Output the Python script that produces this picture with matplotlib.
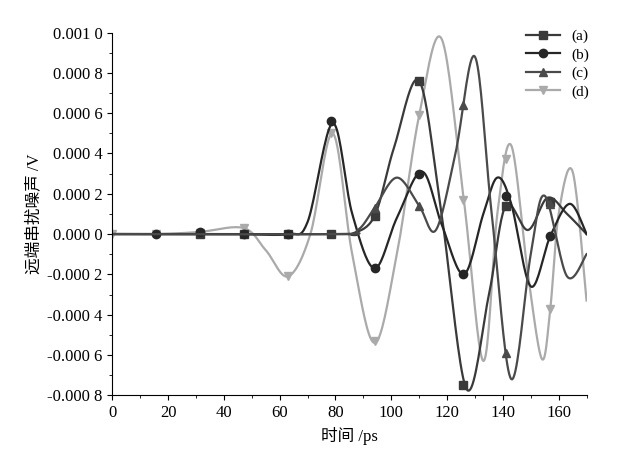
import matplotlib.pyplot as plt
import numpy as np
from matplotlib.ticker import MultipleLocator, FuncFormatter

plt.rcParams['font.family'] = ['Liberation Serif', 'Noto Sans CJK SC', 'Noto Sans CJK JP']

# key points of each curve (x in ps, y in 1e-4 V)
a_x = [0, 80, 86, 94, 101, 110, 118, 127, 135, 141, 149, 156, 163, 170]
a_y = [0, 0, 0.02, 0.9, 4.3, 7.6, 1, -7.7, -3, 1.4, 0.2, 1.8, 1, 0]
b_x = [0, 16, 31, 47, 63, 70, 79, 86, 94, 102, 111, 118, 126, 133, 138, 143, 150, 157, 164, 170]
b_y = [0, 0, 0, 0, 0, 0.6, 5.5, 1, -1.7, 0.8, 3.1, 0.5, -2, 1, 2.8, 1.5, -2.6, -0.1, 1.5, 0]
c_x = [0, 80, 88, 94, 102, 110, 116, 123, 130, 136, 143, 150, 155, 163, 170]
c_y = [0, 0, 0.2, 1.3, 2.8, 1.4, 0.2, 4, 8.8, 1, -7.2, -1, 1.9, -2.1, -1]
d_x = [0, 16, 31, 47, 55, 63, 71, 79, 86, 94, 102, 110, 118, 126, 133, 138, 143, 149, 154, 157, 160, 165, 170]
d_y = [0, 0, 0.1, 0.3, -0.8, -2.1, 0, 5, -1, -5.4, -1, 5.9, 9.7, 1.7, -6.3, 1, 4.4, -2, -6.2, -3.7, 1, 3.1, -3.3]

# marker points
m_x = [0, 15.7, 31.4, 47.1, 62.8, 78.5, 94.2, 109.9, 125.6, 141.3, 157]
a_m = [None, None, 0, 0, 0, 0, 0.9, 7.6, -7.5, 1.4, 1.6]
b_m = [None, 0, 0.1, 0, 0, 5.6, -1.7, 3.0, -2.0, 1.9, -0.1]
c_m = [None, None, None, None, None, None, 1.3, 1.4, 6.4, -5.9, 1.5]
d_m = [0, 0, 0.05, 0.3, -2.1, 5.0, -5.3, 5.9, 1.7, 3.7, -3.7]

labels = ['(a)', '(b)', '(c)', '(d)']
colors = ['#3a3a3a', '#262626', '#4a4a4a', '#aaaaaa']
markers = ['s', 'o', '^', 'v']


def smooth(xs, ys, n=20):
    # Catmull-Rom through the key points
    xs = np.asarray(xs, float)
    ys = np.asarray(ys, float)
    px = np.r_[xs[0], xs, xs[-1]]
    py = np.r_[ys[0], ys, ys[-1]]
    outx, outy = [], []
    for i in range(1, len(px) - 2):
        t = np.linspace(0, 1, n, endpoint=False)
        for p, out in ((px, outx), (py, outy)):
            p0, p1, p2, p3 = p[i - 1], p[i], p[i + 1], p[i + 2]
            out.extend(0.5 * (2 * p1 + (-p0 + p2) * t + (2 * p0 - 5 * p1 + 4 * p2 - p3) * t ** 2
                              + (-p0 + 3 * p1 - 3 * p2 + p3) * t ** 3))
    outx.append(xs[-1])
    outy.append(ys[-1])
    return np.array(outx), np.array(outy) * 1e-4


fig, ax = plt.subplots(figsize=(6.24, 4.65), dpi=100)
fig.subplots_adjust(left=0.18, right=0.94, bottom=0.15, top=0.93)

series = [(a_x, a_y, a_m), (b_x, b_y, b_m), (c_x, c_y, c_m), (d_x, d_y, d_m)]
order = [3, 0, 1, 2]
for i in order:
    kx, ky, mk = series[i]
    sx, sy = smooth(kx, ky)
    ax.plot(sx, sy, color=colors[i], lw=1.6)
    mx = [x for x, v in zip(m_x, mk) if v is not None]
    my = [v * 1e-4 for v in mk if v is not None]
    ax.plot(mx, my, ls='none', marker=markers[i], color=colors[i], ms=6)

handles = [plt.Line2D([], [], color=colors[i], marker=markers[i], lw=1.6, ms=6) for i in range(4)]
ax.legend(handles, labels, loc='upper right', frameon=False, handlelength=2.2,
          prop={'size': 11}, borderaxespad=-0.6, labelspacing=0.3)

ax.set_xlim(0, 170)
ax.set_ylim(-0.0008, 0.001)
ax.xaxis.set_major_locator(MultipleLocator(20))
ax.xaxis.set_minor_locator(MultipleLocator(10))
ax.yaxis.set_major_locator(MultipleLocator(0.0002))
ax.yaxis.set_minor_locator(MultipleLocator(0.0001))


def yfmt(v, pos):
    s = '%.4f' % v
    if s.startswith('-0.0000'):
        s = s[1:]
    return s[:-1] + ' ' + s[-1]


ax.yaxis.set_major_formatter(FuncFormatter(yfmt))
ax.tick_params(labelsize=12)
for s in ['top', 'right']:
    ax.spines[s].set_visible(False)
ax.set_xlabel('时间 /ps', fontsize=12)
ax.set_ylabel('远端串扰噪声 /V', fontsize=12)

fig.savefig('out.png')
